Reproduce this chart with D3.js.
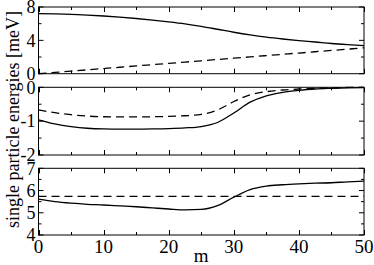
<!DOCTYPE html>
<html><head><meta charset="utf-8">
<script src="https://cdn.jsdelivr.net/npm/d3@7"></script>
<style>body{margin:0;background:#fff}svg{display:block}text{fill:#000}</style>
</head><body>
<script>
const m = [0,2.5,5,7.5,10,12.5,15,17.5,20,22.5,25,27.5,30,32.5,35,37.5,40,42.5,45,47.5,50];
const p1Solid = [7.2,7.17,7.12,7.03,6.92,6.78,6.62,6.43,6.22,5.98,5.68,5.33,4.97,4.65,4.38,4.16,3.97,3.8,3.62,3.48,3.36];
const p1Dashed = [0,0.155,0.31,0.465,0.62,0.775,0.93,1.085,1.24,1.395,1.55,1.705,1.86,2.015,2.17,2.325,2.48,2.635,2.79,2.945,3.1];
const p2Solid = [-0.96,-1.08,-1.16,-1.21,-1.23,-1.235,-1.235,-1.23,-1.22,-1.2,-1.16,-1.04,-0.76,-0.44,-0.25,-0.15,-0.09,-0.05,-0.03,-0.015,-0.01];
const p2Dashed = [-0.67,-0.75,-0.81,-0.85,-0.87,-0.875,-0.875,-0.87,-0.86,-0.84,-0.8,-0.67,-0.42,-0.22,-0.13,-0.08,-0.05,-0.03,-0.015,-0.005,0];
const p3Solid = [5.61,5.5,5.43,5.38,5.35,5.31,5.27,5.22,5.17,5.13,5.15,5.32,5.7,6.04,6.2,6.26,6.3,6.33,6.35,6.39,6.42];
const p3Dashed = [5.74,5.74,5.74,5.74,5.74,5.74,5.74,5.74,5.74,5.74,5.74,5.74,5.74,5.74,5.74,5.74,5.74,5.74,5.74,5.74,5.74];
const xTicks = [0,10,20,30,40,50];
const panels = [
  {top:7, bottom:73.7, domain:[0,8], major:[0,4,8], minor:[2,6], solid:p1Solid, dashed:p1Dashed},
  {top:87.3, bottom:155, domain:[-2,0], major:[-2,-1,0], minor:[-1.5,-0.5], solid:p2Solid, dashed:p2Dashed},
  {top:168.3, bottom:235, domain:[4,7], major:[4,5,6,7], minor:[4.5,5.5,6.5], solid:p3Solid, dashed:p3Dashed}
];
const W=374,H=265, L=38.5, R=364;
const svg=d3.select("body").append("svg").attr("width",W).attr("height",H);
const x=d3.scaleLinear().domain([0,50]).range([L,R]);
const xMinor=[5,15,25,35,45];
const FF='"Times New Roman","Liberation Serif",Times,"DejaVu Serif","Noto Serif",serif';
const fs=18;
panels.forEach((p,i)=>{
  const y=d3.scaleLinear().domain(p.domain).range([p.bottom,p.top]);
  const g=svg.append("g");
  const tk=(x1,y1,x2,y2)=>g.append("line").attr("x1",x1).attr("y1",y1).attr("x2",x2).attr("y2",y2).attr("stroke","#000").attr("stroke-width",1);
  xTicks.forEach(t=>{const xx=Math.round(x(t))+0.5; tk(xx,p.bottom,xx,p.bottom-5); tk(xx,p.top,xx,p.top+5);});
  xMinor.forEach(t=>{const xx=Math.round(x(t))+0.5; tk(xx,p.bottom,xx,p.bottom-3); tk(xx,p.top,xx,p.top+3);});
  p.major.forEach(t=>{const yy=y(t); tk(L,yy,L+5,yy); tk(R,yy,R-5,yy);});
  p.minor.forEach(t=>{const yy=y(t); tk(L,yy,L+3,yy); tk(R,yy,R-3,yy);});
  const line=d3.line().x((d,j)=>x(m[j])).y(d=>y(d)).curve(d3.curveMonotoneX);
  g.append("path").attr("d",line(p.dashed)).attr("fill","none").attr("stroke","#000").attr("stroke-width",1.3).attr("stroke-dasharray","8,5");
  g.append("path").attr("d",line(p.solid)).attr("fill","none").attr("stroke","#000").attr("stroke-width",1.3);
  g.append("rect").attr("x",L).attr("y",p.top).attr("width",R-L).attr("height",p.bottom-p.top).attr("fill","none").attr("stroke","#000").attr("stroke-width",1);
  p.major.forEach(t=>{
    g.append("text").attr("x",L-3).attr("y",y(t)).attr("dy","0.35em").attr("text-anchor","end")
     .attr("font-family",FF).attr("font-size",fs).text(t);
  });
  if(i===2){
    xTicks.forEach(t=>g.append("text").attr("x",x(t)).attr("y",p.bottom+17.5).attr("text-anchor","middle")
      .attr("font-family",FF).attr("font-size",fs+1).text(t));
  }
});
svg.append("text").attr("x",(L+R)/2).attr("y",262).attr("text-anchor","middle").attr("font-family",FF).attr("font-size",fs+1).text("m");
svg.append("text").attr("transform","translate(18.5,119.5) rotate(-90)").attr("text-anchor","middle")
  .attr("font-family",FF).attr("font-size",18).text("single particle energies [meV]");
</script>
</body></html>
